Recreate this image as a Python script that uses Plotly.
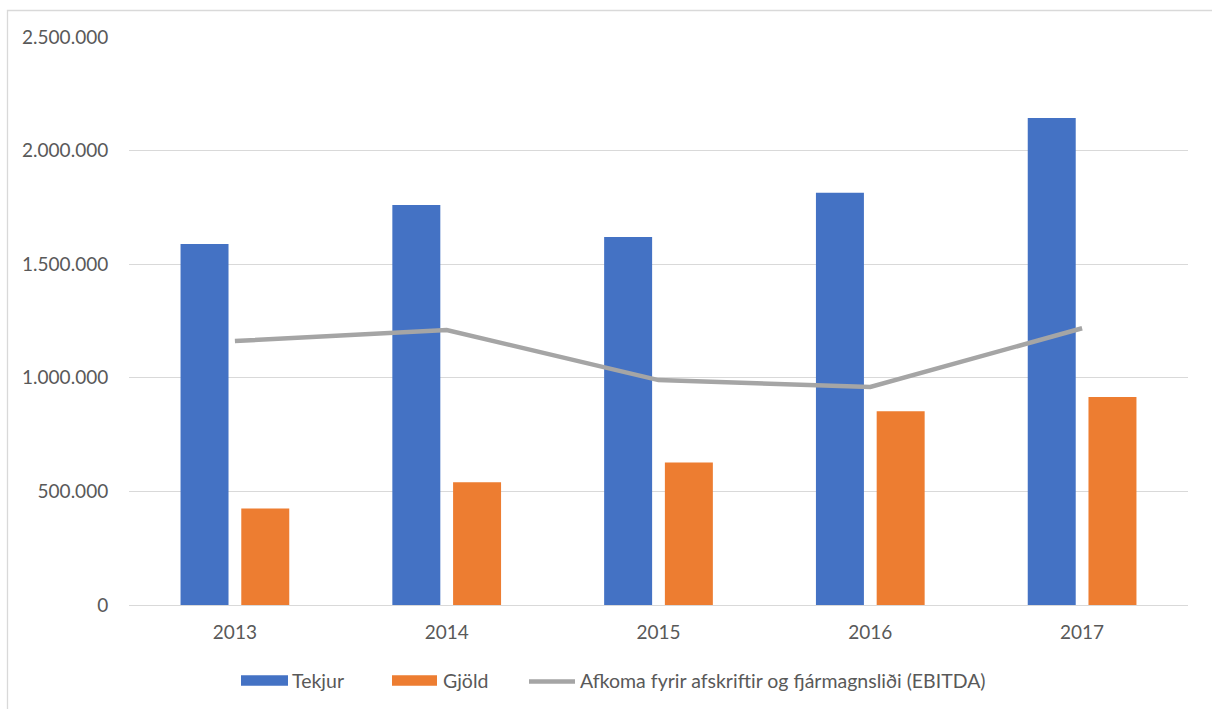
import plotly.graph_objects as go

# Yearly figures (ISK thousands)
years = ["2013", "2014", "2015", "2016", "2017"]
tekjur = [1589000, 1761000, 1620000, 1815000, 2144000]
gjold = [425000, 540000, 627000, 853000, 916000]
ebitda = [1162000, 1210000, 990000, 960000, 1218000]

series_names = ["Tekjur", "Gjöld", "Afkoma fyrir afskriftir og fjármagnsliði (EBITDA)"]
y_ticks = [0, 500000, 1000000, 1500000, 2000000, 2500000]
y_tick_text = ["0", "500.000", "1.000.000", "1.500.000", "2.000.000", "2.500.000"]

BLUE = "#4472C4"
ORANGE = "#ED7D31"
GREY = "#A5A5A5"
TEXT = "#595959"
GRID = "#D9D9D9"
FONT = "Lato"

W, H = 1212, 709
M_L, M_R, M_T, M_B = 129, 24, 37, 104
PW = W - M_L - M_R
PH = H - M_T - M_B


def px_x(p):
    return (p - M_L) / PW


def px_y(p):
    return (H - M_B - p) / PH


fig = go.Figure()
fig.add_trace(go.Bar(x=years, y=tekjur, name=series_names[0], marker_color=BLUE,
                     marker_line_width=0, showlegend=False))
fig.add_trace(go.Bar(x=years, y=gjold, name=series_names[1], marker_color=ORANGE,
                     marker_line_width=0, showlegend=False))
fig.add_trace(go.Scatter(x=years, y=ebitda, name=series_names[2], mode="lines",
                         line=dict(color=GREY, width=4.5), showlegend=False))

# Legend drawn beneath the plot: swatch + label per series
shapes = []
annotations = []
legend_items = [
    ("bar", BLUE, 241, 288, 292),
    ("bar", ORANGE, 392, 437, 443),
    ("line", GREY, 527, 577, 580),
]
leg_y = 680.5
for (kind, color, x0, x1, tx), name in zip(legend_items, series_names):
    if kind == "bar":
        shapes.append(dict(type="rect", xref="paper", yref="paper",
                           x0=px_x(x0), x1=px_x(x1),
                           y0=px_y(leg_y - 5.3), y1=px_y(leg_y + 5.3),
                           fillcolor=color, line_width=0))
    else:
        shapes.append(dict(type="line", xref="paper", yref="paper",
                           x0=px_x(x0 + 2), x1=px_x(x1 - 2),
                           y0=px_y(leg_y + 1), y1=px_y(leg_y + 1),
                           line=dict(color=color, width=4.5)))
    annotations.append(dict(xref="paper", yref="paper", x=px_x(tx), y=px_y(leg_y),
                            text=name, showarrow=False, xanchor="left",
                            yanchor="middle", xshift=-2,
                            font=dict(family=FONT, size=19.5, color=TEXT)))

# Chart-area border
shapes.append(dict(type="rect", xref="paper", yref="paper",
                   x0=px_x(7.5), x1=px_x(W + 10),
                   y0=px_y(H + 10), y1=px_y(10.5),
                   line=dict(color=GRID, width=1.3), fillcolor="rgba(0,0,0,0)",
                   layer="below"))

fig.update_layout(
    width=W, height=H,
    margin=dict(l=M_L, r=M_R, t=M_T, b=M_B),
    paper_bgcolor="white", plot_bgcolor="white",
    barmode="group", bargap=0.4265, bargroupgap=0.21,
    font=dict(family=FONT, size=19, color=TEXT),
    shapes=shapes, annotations=annotations,
    showlegend=False,
)
fig.update_xaxes(type="category", showgrid=False, showline=False, zeroline=False,
                 ticks="outside", ticklen=0, ticklabelstandoff=10,
                 tickfont=dict(family=FONT, size=19, color=TEXT))
fig.update_yaxes(range=[0, 2500000], tickvals=y_ticks, ticktext=y_tick_text,
                 showgrid=True, gridcolor=GRID, gridwidth=1.3,
                 zeroline=True, zerolinecolor=GRID, zerolinewidth=1.3,
                 showline=False, ticks="outside", ticklen=0, ticklabelstandoff=16,
                 tickfont=dict(family=FONT, size=19, color=TEXT))

fig.write_html("out.html")
